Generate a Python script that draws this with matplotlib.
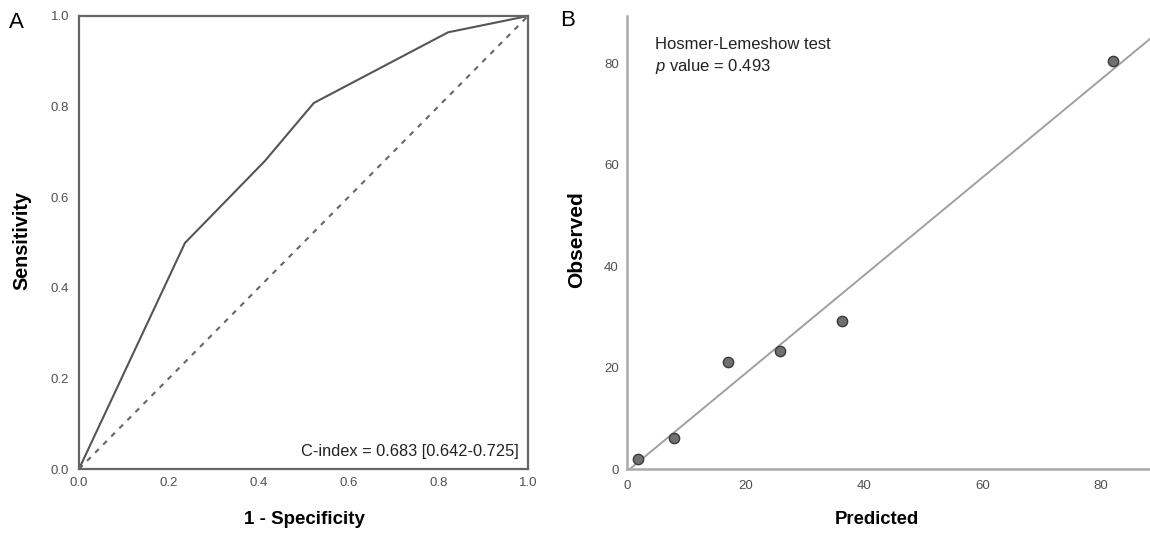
import numpy as np
import matplotlib
matplotlib.use("Agg")
import matplotlib.pyplot as plt

plt.rcParams['font.family'] = ['Liberation Sans', 'DejaVu Sans']
plt.rcParams['mathtext.fontset'] = 'custom'
plt.rcParams['mathtext.it'] = 'Liberation Sans:italic'
plt.rcParams['mathtext.rm'] = 'Liberation Sans'

# Panel A: ROC curve
roc_fpr = [0.0, 0.236, 0.414, 0.523, 0.822, 1.0]
roc_tpr = [0.0, 0.499, 0.680, 0.808, 0.964, 1.0]
a_ticks = [0.0, 0.2, 0.4, 0.6, 0.8, 1.0]
a_ticklabels = ["0.0", "0.2", "0.4", "0.6", "0.8", "1.0"]
c_index_text = "C-index = 0.683 [0.642-0.725]"

# Panel B: calibration
pred = [1.8, 7.9, 17.0, 25.9, 36.3, 82.0]
obs = [2.0, 6.1, 21.1, 23.3, 29.2, 80.5]
b_ticks = [0, 20, 40, 60, 80]

W, H = 1150, 533
fig = plt.figure(figsize=(W / 100, H / 100), dpi=100)

def rect(l, r, t, b):
    return [l / W, (H - b) / H, (r - l) / W, (b - t) / H]

def ftext(x, y, s, **kw):
    return fig.text(x / W, (H - y) / H, s, **kw)

tick_col = '#505050'

# ---------- Panel A ----------
axA = fig.add_axes(rect(79, 528, 16, 469))
axA.plot(roc_fpr, roc_tpr, color='#555555', lw=1.5, solid_joinstyle='miter')
axA.plot([0, 1], [0, 1], color='#666666', lw=1.5, linestyle=(0, (2.5, 3)))
axA.set_xlim(0, 1)
axA.set_ylim(0, 1)
axA.set_xticks(a_ticks)
axA.set_xticklabels(a_ticklabels)
axA.set_yticks(a_ticks)
axA.set_yticklabels(a_ticklabels)
axA.tick_params(axis='both', length=0, labelsize=9.5, colors=tick_col)
axA.tick_params(axis='x', pad=6)
axA.tick_params(axis='y', pad=7)
for s in axA.spines.values():
    s.set_color('#666666')
    s.set_linewidth(1.6)
axA.text(0.98, 0.038, c_index_text, transform=axA.transAxes, ha='right', va='center',
         fontsize=11.8, color='#222222')
ftext(304.5, 519, "1 - Specificity", fontsize=13.5, fontweight='bold', ha='center', va='center')
ftext(21.5, 241, "Sensitivity", fontsize=14.2, fontweight='bold', ha='center', va='center',
      rotation=90)
ftext(16, 22, "A", fontsize=16, ha='center', va='center')

# ---------- Panel B ----------
axB = fig.add_axes(rect(627, 1150, 16, 469))
axB.set_xlim(0, 88.3)
axB.set_ylim(0, 89.3)
coef = np.polyfit(pred, obs, 1)
xl = np.array(axB.get_xlim())
axB.plot(xl, np.polyval(coef, xl), color='#a0a0a0', lw=1.4, zorder=2)
axB.scatter(pred, obs, s=55, facecolor='#707070', edgecolor='#3a3a3a', linewidth=1.0, zorder=3)
axB.set_xticks(b_ticks)
axB.set_yticks(b_ticks)
axB.tick_params(axis='both', length=0, labelsize=9.5, colors=tick_col)
axB.tick_params(axis='x', pad=8)
axB.tick_params(axis='y', pad=6)
for k in ['top', 'right']:
    axB.spines[k].set_visible(False)
for k in ['left', 'bottom']:
    axB.spines[k].set_color('#aaaaaa')
    axB.spines[k].set_linewidth(1.8)
axB.text(0.054, 0.938, "Hosmer-Lemeshow test", transform=axB.transAxes, ha='left', va='center',
         fontsize=12, color='#222222')
axB.text(0.054, 0.888, "$p$ value = 0.493", transform=axB.transAxes, ha='left', va='center',
         fontsize=12, color='#222222')
ftext(876.5, 520, "Predicted", fontsize=13.3, fontweight='bold', ha='center', va='center')
ftext(577, 240, "Observed", fontsize=15, fontweight='bold', ha='center', va='center',
      rotation=90)
ftext(568, 20, "B", fontsize=16, ha='center', va='center')

fig.savefig("out.png", dpi=100)
